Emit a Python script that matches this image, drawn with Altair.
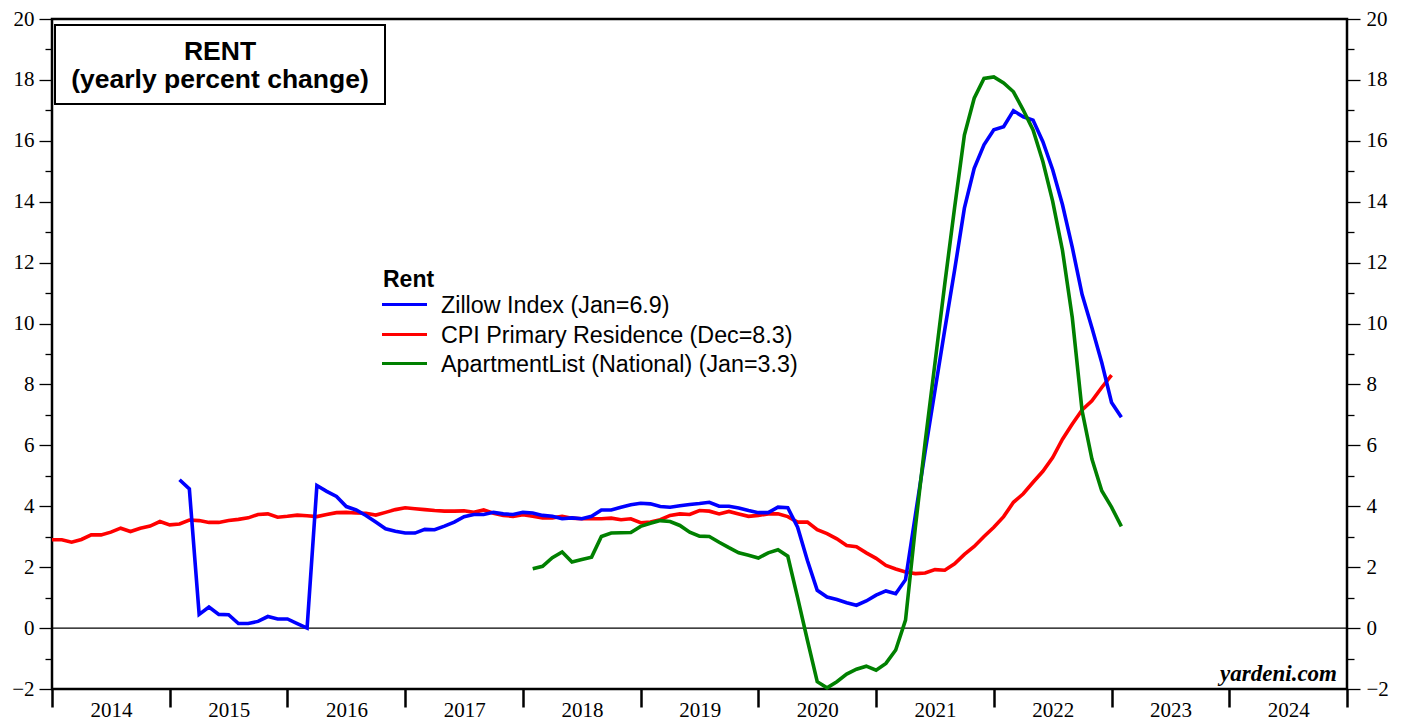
import altair as alt
import pandas as pd

# ---------------- data (yearly % change, monthly) ----------------
series_names = [
    "Zillow Index (Jan=6.9)",
    "CPI Primary Residence (Dec=8.3)",
    "ApartmentList (National) (Jan=3.3)",
]
series_colors = ["#0000FF", "#FF0000", "#008000"]

zillow_start = (2015, 1)
zillow = [
    4.87, 4.57, 0.45, 0.69, 0.45, 0.44, 0.15, 0.15, 0.22, 0.38, 0.30, 0.30,
    0.15, 0.00, 4.68, 4.49, 4.32, 3.99, 3.88, 3.70, 3.48, 3.26, 3.18, 3.12,
    3.12, 3.24, 3.23, 3.35, 3.48, 3.66, 3.73, 3.73, 3.80, 3.75, 3.73, 3.80,
    3.78, 3.70, 3.67, 3.59, 3.62, 3.59, 3.67, 3.88, 3.88, 3.97, 4.05, 4.10,
    4.08, 3.99, 3.97, 4.02, 4.06, 4.09, 4.13, 4.00, 4.00, 3.94, 3.86, 3.79,
    3.79, 3.97, 3.95, 3.31, 2.22, 1.24, 1.02, 0.94, 0.83, 0.75, 0.89, 1.08,
    1.22, 1.13, 1.59, 3.70, 5.80, 7.80, 9.80, 11.75, 13.79, 15.10, 15.87, 16.36,
    16.46, 16.99, 16.79, 16.68, 15.97, 15.05, 13.90, 12.50, 10.95, 9.86, 8.72, 7.41,
    6.92,
]

cpi_start = (2013, 12)
cpi = [
    2.90,
    2.90, 2.82, 2.91, 3.06, 3.06, 3.15, 3.28, 3.17, 3.28, 3.35, 3.50, 3.39,
    3.42, 3.55, 3.53, 3.47, 3.47, 3.53, 3.57, 3.62, 3.73, 3.75, 3.64, 3.67,
    3.71, 3.69, 3.66, 3.73, 3.79, 3.80, 3.78, 3.77, 3.71, 3.80, 3.89, 3.95,
    3.92, 3.89, 3.86, 3.84, 3.84, 3.85, 3.80, 3.88, 3.77, 3.70, 3.67, 3.72,
    3.67, 3.62, 3.62, 3.67, 3.61, 3.59, 3.59, 3.59, 3.61, 3.56, 3.59, 3.46,
    3.48, 3.56, 3.70, 3.75, 3.73, 3.86, 3.84, 3.75, 3.83, 3.75, 3.67, 3.70,
    3.75, 3.75, 3.66, 3.48, 3.48, 3.23, 3.10, 2.93, 2.71, 2.67, 2.47, 2.29,
    2.06, 1.94, 1.84, 1.79, 1.81, 1.92, 1.90, 2.11, 2.42, 2.68, 3.01, 3.31,
    3.66, 4.13, 4.41, 4.79, 5.15, 5.60, 6.20, 6.70, 7.16, 7.46, 7.90, 8.31,
]

apt_start = (2018, 1)
apt = [
    1.95, 2.03, 2.31, 2.50, 2.17, 2.25, 2.33, 3.01, 3.12, 3.13, 3.14, 3.34,
    3.44, 3.53, 3.50, 3.37, 3.15, 3.02, 3.01, 2.82, 2.64, 2.47, 2.39, 2.30,
    2.47, 2.57, 2.36, 1.00, -0.40, -1.76, -1.96, -1.76, -1.51, -1.35, -1.25, -1.38,
    -1.16, -0.72, 0.26, 3.30, 6.10, 8.70, 11.30, 13.80, 16.19, 17.40, 18.05, 18.10,
    17.90, 17.61, 17.01, 16.36, 15.32, 14.01, 12.40, 10.19, 7.13, 5.55, 4.51, 3.97,
    3.34,
]

year_ticks = list(range(2014, 2026))
y_ticks = list(range(-2, 21))


def month_time(start, n):
    """Fractional-year time stamp at the end of each month."""
    y0, m0 = start
    out = []
    for i in range(n):
        k = (m0 - 1) + i
        out.append(y0 + k // 12 + (k % 12 + 1) / 12.0)
    return out


df_zillow = pd.DataFrame({"t": month_time(zillow_start, len(zillow)), "v": zillow})
df_cpi = pd.DataFrame({"t": month_time(cpi_start, len(cpi)), "v": cpi})
df_apt = pd.DataFrame({"t": month_time(apt_start, len(apt)), "v": apt})

# ---------------- scales / axes ----------------
SERIF = "Liberation Serif"
SANS = "Liberation Sans"

x_scale = alt.Scale(domain=[2014, 2025], nice=False, zero=False)
y_scale = alt.Scale(domain=[-2, 20], nice=False, zero=False)

x_axis = alt.Axis(
    values=year_ticks, format="d",
    labelExpr="datum.value >= 2025 ? '' : datum.label",
    labelOffset=59, labelFlush=False, labelOverlap=False, labelBound=False,
    tickSize=18, tickWidth=2.5, tickColor="black",
    labelPadding=9, labelBaseline="alphabetic",
    labelFont=SERIF, labelFontSize=21, labelColor="black",
    domain=False, grid=False, title=None,
)

major_test = "datum.value % 2 === 0"
tick_size = {"condition": {"test": major_test, "value": 13}, "value": 7}


def y_axis(orient, pad):
    return alt.Axis(
        orient=orient, values=y_ticks,
        labelExpr="datum.value % 2 === 0 ? datum.label : ''",
        tickSize=tick_size, tickWidth=1.3, tickColor="black",
        labelPadding=pad, labelFont=SERIF, labelFontSize=21, labelColor="black",
        labelOverlap=False, labelFlush=False, labelBound=False,
        domain=False, grid=False, title=None,
    )


zero_rule = alt.Chart(pd.DataFrame({"z": [0]})).mark_rule(
    color="black", strokeWidth=1.2
).encode(
    y=alt.Y("z:Q", scale=y_scale, axis=y_axis("right", 6)),
)


def line_layer(df, color, axis):
    return alt.Chart(df).mark_line(color=color, strokeWidth=3.6).encode(
        x=alt.X("t:Q", scale=x_scale, axis=x_axis),
        y=alt.Y("v:Q", scale=y_scale, axis=axis),
    )


red_line = line_layer(df_cpi, series_colors[1], y_axis("left", 5))
blue_line = line_layer(df_zillow, series_colors[0], None)
green_line = line_layer(df_apt, series_colors[2], None)


def text_layer(txt, x, y, size, weight="normal", style="normal", font=SANS,
               align="left", baseline="alphabetic"):
    return alt.Chart(pd.DataFrame({"s": [txt]})).mark_text(
        x=x, y=y, fontSize=size, fontWeight=weight, fontStyle=style,
        font=font, align=align, baseline=baseline, color="black",
    ).encode(text=alt.Text("s:N"))


# title box
title_box = alt.Chart(pd.DataFrame({"a": [0]})).mark_rect(
    fill="white", stroke="black", strokeWidth=2
).encode(x=alt.value(3), x2=alt.value(333), y=alt.value(6), y2=alt.value(85))
title1 = text_layer("RENT", 168, 41, 26.5, weight="bold", align="center")
title2 = text_layer("(yearly percent change)", 168, 69, 26.5, weight="bold", align="center")

# legend
legend_layers = [text_layer("Rent", 331, 268, 23, weight="bold")]
row_y = [285.5, 315.5, 344.5]
for name, color, ry in zip(series_names, series_colors, row_y):
    legend_layers.append(
        alt.Chart(pd.DataFrame({"a": [0]})).mark_rule(color=color, strokeWidth=3.2).encode(
            x=alt.value(330), x2=alt.value(375), y=alt.value(ry)
        )
    )
    legend_layers.append(text_layer(name, 389, ry + 1, 23.3, baseline="middle"))

source = text_layer("yardeni.com", 1285, 662, 23, weight="bold", style="italic",
                    font=SERIF, align="right")

chart = alt.layer(
    zero_rule, red_line, blue_line, green_line,
    title_box, title1, title2, *legend_layers, source,
).resolve_axis(y="independent").properties(
    width=1295, height=670,
    padding={"left": 44, "top": 11, "right": 52, "bottom": 34},
    autosize=alt.AutoSizeParams(type="none"),
    background="white",
).configure_view(
    fill="#FFFFE2", stroke="black", strokeWidth=2.5
)

chart.save("out.html", embed_options={"renderer": "svg", "actions": False})
